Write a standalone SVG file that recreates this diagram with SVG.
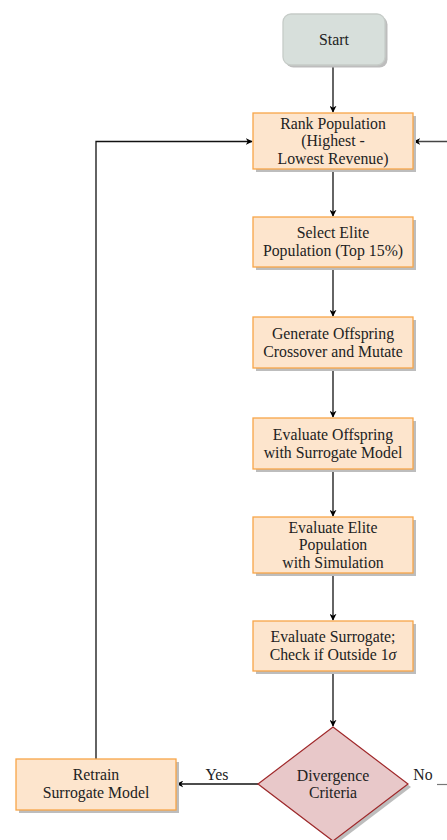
<svg xmlns="http://www.w3.org/2000/svg" width="447" height="840" viewBox="0 0 447 840">
<defs>
<marker id="ah" viewBox="0 0 10 10" refX="9" refY="5" markerWidth="7" markerHeight="7" markerUnits="userSpaceOnUse" orient="auto">
<path d="M0,0 L10,5 L0,10 L3,5 Z" fill="#000"/>
</marker>
<style>
.box{fill:#fde5cd;stroke:#f7a548;stroke-width:1.3}
.sh{fill:#bdbdbd}
.start{fill:#d7dfdb;stroke:#c6ccc8;stroke-width:1.3}
.dia{fill:#e8c8c9;stroke:#a0282a;stroke-width:1.2}
.t{font-family:"Liberation Serif","Times New Roman",serif;font-size:15.8px;fill:#222;text-anchor:middle}
.c{fill:none;stroke:#111;stroke-width:1.3}
</style>
</defs>
<rect width="447" height="840" fill="#fff"/>
<g id="connectors">
<line class="c" x1="333" y1="65" x2="333" y2="112" marker-end="url(#ah)"/>
<line class="c" x1="333" y1="169" x2="333" y2="216" marker-end="url(#ah)"/>
<line class="c" x1="333" y1="267" x2="333" y2="316" marker-end="url(#ah)"/>
<line class="c" x1="333" y1="368" x2="333" y2="417" marker-end="url(#ah)"/>
<line class="c" x1="333" y1="469" x2="333" y2="516" marker-end="url(#ah)"/>
<line class="c" x1="333" y1="573" x2="333" y2="620" marker-end="url(#ah)"/>
<line class="c" x1="333" y1="671" x2="333" y2="726" marker-end="url(#ah)"/>
<line class="c" x1="258" y1="784" x2="177" y2="784" marker-end="url(#ah)"/>
<polyline class="c" points="96,759 96,141.5 252,141.5" marker-end="url(#ah)"/>
<line x1="437" y1="784.5" x2="447" y2="784.5" stroke="#777" stroke-width="1.2"/>
<line x1="447" y1="141.5" x2="414" y2="141.5" stroke="#444" stroke-width="1.3" marker-end="url(#ah)"/>
<text class="t" x="217" y="780">Yes</text>
<text class="t" x="423" y="780">No</text>
</g>
<g id="start">
<rect class="sh" x="285.5" y="16.5" width="102" height="51" rx="8"/>
<rect class="start" x="283" y="14" width="102" height="51" rx="8"/>
<text class="t" x="334" y="45">Start</text>
</g>
<g id="rank">
<rect class="sh" x="256" y="116" width="160" height="56"/>
<rect class="box" x="253" y="113" width="160" height="56"/>
<text class="t" x="333" y="128.5">Rank Population</text>
<text class="t" x="333" y="146">(Highest -</text>
<text class="t" x="333" y="163.5">Lowest Revenue)</text>
</g>
<g id="select">
<rect class="sh" x="256" y="220" width="160" height="50"/>
<rect class="box" x="253" y="217" width="160" height="50"/>
<text class="t" x="333" y="238">Select Elite</text>
<text class="t" x="333" y="256">Population (Top 15%)</text>
</g>
<g id="generate">
<rect class="sh" x="256" y="320" width="160" height="51"/>
<rect class="box" x="253" y="317" width="160" height="51"/>
<text class="t" x="333" y="338.5">Generate Offspring</text>
<text class="t" x="333" y="356.5">Crossover and Mutate</text>
</g>
<g id="evaloff">
<rect class="sh" x="256" y="421" width="160" height="51"/>
<rect class="box" x="253" y="418" width="160" height="51"/>
<text class="t" x="333" y="439.5">Evaluate Offspring</text>
<text class="t" x="333" y="457.5">with Surrogate Model</text>
</g>
<g id="evalelite">
<rect class="sh" x="256" y="520" width="160" height="56"/>
<rect class="box" x="253" y="517" width="160" height="56"/>
<text class="t" x="333" y="532.5">Evaluate Elite</text>
<text class="t" x="333" y="550">Population</text>
<text class="t" x="333" y="567.5">with Simulation</text>
</g>
<g id="evalsur">
<rect class="sh" x="256" y="624" width="160" height="50"/>
<rect class="box" x="253" y="621" width="160" height="50"/>
<text class="t" x="333" y="642">Evaluate Surrogate;</text>
<text class="t" x="333" y="660">Check if Outside 1<tspan font-style="italic">σ</tspan></text>
</g>
<g id="divergence">
<polygon class="sh" points="336,730 411,787 336,844 261,787"/>
<polygon class="dia" points="333,727 408,784 333,841 258,784"/>
<text class="t" x="333" y="781">Divergence</text>
<text class="t" x="333" y="798">Criteria</text>
</g>
<g id="retrain">
<rect class="sh" x="19" y="762" width="160" height="51"/>
<rect class="box" x="16" y="759" width="160" height="51"/>
<text class="t" x="96" y="780">Retrain</text>
<text class="t" x="96" y="798">Surrogate Model</text>
</g>
</svg>
